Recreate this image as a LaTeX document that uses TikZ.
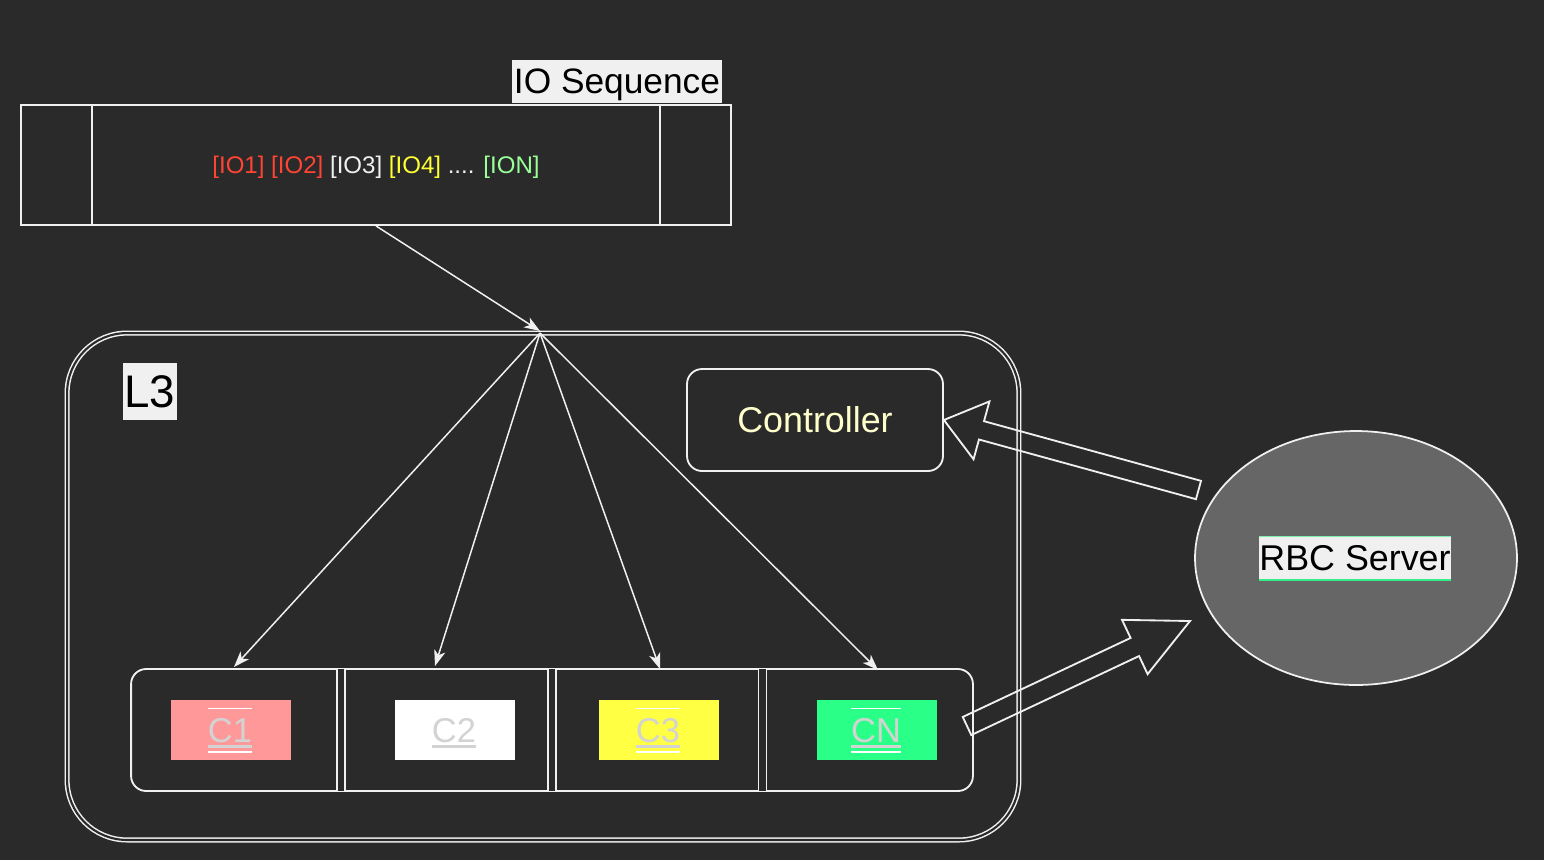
\documentclass[tikz,border=0pt]{standalone}
\usepackage{fontspec}
\setmainfont{Liberation Sans}
\usetikzlibrary{calc,shapes.geometric,arrows.meta}

\definecolor{bg}{HTML}{2A2A2A}
\definecolor{ln}{HTML}{F0F0F0}
\definecolor{iored}{HTML}{FF4433}
\definecolor{ioyel}{HTML}{FFFF33}
\definecolor{iogrn}{HTML}{99FF99}
\definecolor{ctrltext}{HTML}{FFFFCC}
\definecolor{rbcfill}{HTML}{666666}
\definecolor{rbcgreen}{HTML}{33EE88}
\definecolor{cone}{HTML}{FF9999}
\definecolor{cthree}{HTML}{FFFF44}
\definecolor{cn}{HTML}{2AFF88}
\definecolor{ctext}{HTML}{D3D3D3}

% hollow block arrow: from, to, half shaft width, head length, half head width
\newcommand\blockarrow[5]{%
  \coordinate (ba-h) at ($(#2)!#4!(#1)$);
  \draw[blockline]
    ($(#1)!#3!90:(#2)$) -- ($(ba-h)!#3!90:(#2)$) -- ($(ba-h)!#5!90:(#2)$)
    -- (#2)
    -- ($(ba-h)!#5!-90:(#2)$) -- ($(ba-h)!#3!-90:(#2)$) -- ($(#1)!#3!-90:(#2)$)
    -- cycle;
}

\tikzset{
  edge/.style={draw=ln, line width=1.05pt},
  conn/.style={draw=ln, line width=0.85pt, -{Stealth[length=9pt,width=6.5pt,inset=2.5pt]}},
  blockline/.style={draw=ln, line width=1.05pt, line join=miter},
  tag/.style={fill=ln, text=black, inner sep=0pt},
  cbox/.style={inner sep=0pt, minimum width=2.4cm, minimum height=1.2cm},
  clabel/.style={text=ctext, inner sep=0pt, anchor=base,
    font=\fontsize{19.6pt}{22pt}\selectfont},
  divider/.style={draw=ln, line width=0.85pt, double=bg, double distance=3.6pt},
}

\newcommand\clines[1]{%
  \draw[white, line width=0.7pt] ([yshift=18.9pt]#1.base west) -- ([yshift=18.9pt]#1.base east);
  \draw[ctext, line width=1.7pt] ([yshift=-2.3pt]#1.base west) -- ([yshift=-2.3pt]#1.base east);
  \draw[white, line width=1.1pt] ([yshift=-5.7pt]#1.base west) -- ([yshift=-5.7pt]#1.base east);
}

\begin{document}
\begin{tikzpicture}[x=0.02cm, y=-0.02cm]
  \fill[bg] (0,0) rectangle (1544,860);
  \useasboundingbox (0,0) rectangle (1544,860);

  % IO sequence
  \node[edge, minimum width=14.2cm, minimum height=2.4cm, inner sep=0pt,
        text height=9.8pt, text depth=0pt,
        font=\fontsize{13.7pt}{16pt}\selectfont] (ioseq) at (376,165)
    {\textcolor{iored}{[IO1] [IO2]} \textcolor{ln}{[IO3]} \textcolor{ioyel}{[IO4]} \textcolor{ln}{....} \textcolor{iogrn}{[ION]}};
  \draw[edge] ([xshift=1.44cm]ioseq.north west) -- ([xshift=1.44cm]ioseq.south west);
  \draw[edge] ([xshift=-1.44cm]ioseq.north east) -- ([xshift=-1.44cm]ioseq.south east);
  \node[tag, minimum width=4.2cm, minimum height=0.86cm,
        text height=14.2pt, text depth=0pt,
        font=\fontsize{20.1pt}{22pt}\selectfont] (iolabel) at (617,81.5) {IO Sequence};

  % L3 container
  \node[draw=ln, line width=0.85pt, double=bg, double distance=1.2pt,
        rounded corners=1.2cm, minimum width=19.04cm, minimum height=10.14cm] (l3) at (543,586.5) {};
  \node[tag, minimum width=1.08cm, minimum height=1.14cm,
        font=\fontsize{26pt}{30pt}\selectfont] (l3label) at (150,391.5) {L3};

  % controller
  \node[edge, rounded corners=0.3cm, minimum width=5.12cm, minimum height=2.04cm,
        text=ctrltext, font=\fontsize{20.4pt}{24pt}\selectfont] (ctrl) at (815,420) {Controller};

  % RBC server
  \node[ellipse, draw=ln, line width=1pt, fill=rbcfill,
        minimum width=6.44cm, minimum height=5.08cm] (rbc) at (1356,558) {};
  \node[tag, minimum width=3.84cm, minimum height=0.86cm,
        font=\fontsize{20.4pt}{24pt}\selectfont] (rbclabel) at (1355,558.5) {RBC Server};
  \draw[rbcgreen!60!ln, line width=0.5pt] (rbclabel.north west) -- (rbclabel.north east);
  \draw[rbcgreen, line width=1.1pt] (rbclabel.south west) -- (rbclabel.south east);

  % cache bar
  \node[edge, rounded corners=0.3cm, minimum width=16.84cm, minimum height=2.44cm] (cbar) at (552,730) {};
  \draw[divider] (341,669) -- (341,791);
  \draw[divider] (552,669) -- (552,791);
  \draw[divider] (762.5,669) -- (762.5,791);

  \node[cbox, fill=cone] (c1) at (231,730) {};
  \node[cbox, fill=white] (c2) at (455,730) {};
  \node[cbox, fill=cthree] (c3) at (659,730) {};
  \node[cbox, fill=cn] (c4) at (877,730) {};

  \node[clabel] (t1) at ($(c1.center)+(-1,12)$) {C1};
  \node[clabel] (t2) at ($(c2.center)+(-1,12)$) {C2};
  \node[clabel] (t3) at ($(c3.center)+(-1,12)$) {C3};
  \node[clabel] (t4) at ($(c4.center)+(-1,12)$) {CN};
  \clines{t1}
  \clines{t2}
  \clines{t3}
  \clines{t4}

  % request flow
  \coordinate (hub) at (540,331);
  \coordinate (hubout) at (540,333);
  \coordinate (e1) at (234,667);
  \coordinate (e2) at (435,666);
  \coordinate (e3) at (660,669);
  \coordinate (e4) at (878,670);
  \draw[conn] (ioseq.south) -- (hub);
  \draw[conn] (hubout) -- (e1);
  \draw[conn] (hubout) -- (e2);
  \draw[conn] (hubout) -- (e3);
  \draw[conn] (hubout) -- (e4);

  % block arrows between server and L3
  \coordinate (a1) at (1198.5,490);
  \blockarrow{a1}{ctrl.east}{0.19cm}{0.78cm}{0.6cm}
  \coordinate (a2) at (967,726);
  \coordinate (a2tip) at (1190,621);
  \blockarrow{a2}{a2tip}{0.2cm}{1.22cm}{0.6cm}
\end{tikzpicture}
\end{document}
